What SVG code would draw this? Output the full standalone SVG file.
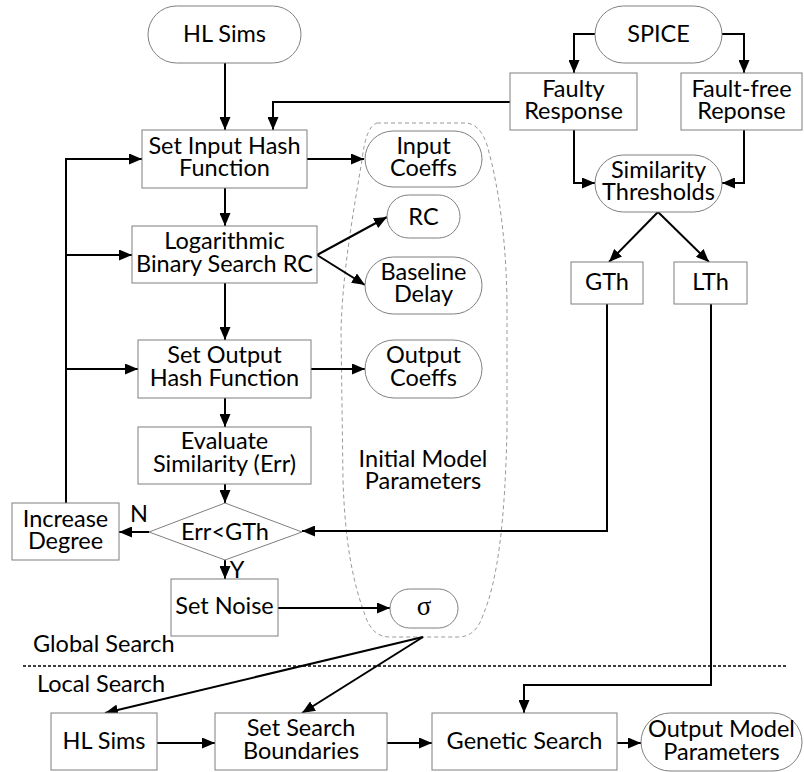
<svg xmlns="http://www.w3.org/2000/svg" width="804" height="772" viewBox="0 0 804 772">
  <defs>
    <marker id="arrow" viewBox="0 0 13 11" refX="13" refY="5.5" markerWidth="13" markerHeight="11" markerUnits="userSpaceOnUse" orient="auto">
      <path d="M0,0 L13,5.5 L0,11 z" fill="#000"/>
    </marker>
    <style>
      .box { fill: #fff; stroke: #7f7f7f; stroke-width: 1; }
      .wire { fill: none; stroke: #000; stroke-width: 2; }
      .arr { marker-end: url(#arrow); }
      text { font-family: "Lato", "Liberation Sans", sans-serif; font-size: 23.5px; fill: #000; text-anchor: middle; }
      .left { text-anchor: start; }
      .sym { font-family: "Liberation Serif", "DejaVu Serif", serif; font-size: 27px; }
    </style>
  </defs>
  <rect width="804" height="772" fill="#fff"/>

  <!-- parameter grouping outline -->
  <path id="param-outline" d="M 377,123 L 466,123 Q 480,124 487,145 C 500,190 507,250 507,310 L 507,430 C 505,520 498,580 483,615 Q 476,637 458,637 L 390,637 Q 372,637 365,615 C 352,580 345,540 343,480 L 341,330 C 343,270 352,220 362,160 Q 366,126 377,123 Z" fill="none" stroke="#999" stroke-width="1" stroke-dasharray="4,3"/>

  <!-- global / local separator -->
  <line x1="23" y1="666" x2="787" y2="666" stroke="#000" stroke-width="1.5" stroke-dasharray="3,2"/>

  <g id="connectors">
    <path class="wire arr" d="M225,63 L225,130"/>
    <path class="wire arr" d="M510,102 L273,102 L273,130"/>
    <path class="wire arr" d="M307,159 L364,159"/>
    <path class="wire arr" d="M225,188 L225,226"/>
    <path class="wire arr" d="M317,255 L387,217"/>
    <path class="wire arr" d="M317,255 L365,285"/>
    <path class="wire arr" d="M225,283 L225,340"/>
    <path class="wire arr" d="M311,369 L365,369"/>
    <path class="wire arr" d="M225,398 L225,427"/>
    <path class="wire arr" d="M225,484 L225,503"/>
    <path class="wire arr" d="M149,532 L119,532"/>
    <path class="wire arr" d="M66,503 L66,159 L142,159"/>
    <path class="wire arr" d="M66,255 L132,255"/>
    <path class="wire arr" d="M66,369 L138,369"/>
    <path class="wire arr" d="M225,560 L225,579"/>
    <path class="wire arr" d="M278,608 L390,608"/>
    <path class="wire arr" d="M595,34 L574,34 L574,73"/>
    <path class="wire arr" d="M722,34 L744,34 L744,73"/>
    <path class="wire arr" d="M574,130 L574,183 L595,183"/>
    <path class="wire arr" d="M744,130 L744,183 L722,183"/>
    <path class="wire arr" d="M658,212 L609,262"/>
    <path class="wire arr" d="M658,212 L709,262"/>
    <path class="wire arr" d="M607,304 L607,531 L302,531"/>
    <path class="wire arr" d="M711,304 L711,685 L524,685 L524,713"/>
    <path class="wire arr" d="M423,637 L105,713"/>
    <path class="wire arr" d="M423,637 L302,713"/>
    <path class="wire arr" d="M157,743 L215,743"/>
    <path class="wire arr" d="M387,743 L432,743"/>
    <path class="wire arr" d="M617,743 L641,743"/>
  </g>

  <g id="hl-sims-top">
    <rect class="box" x="148" y="6" width="153" height="57" rx="28.5"/>
    <text x="224.5" y="42">HL Sims</text>
  </g>
  <g id="spice">
    <rect class="box" x="595" y="6" width="127" height="57" rx="28.5"/>
    <text x="658.5" y="42">SPICE</text>
  </g>
  <g id="faulty-response">
    <rect class="box" x="510" y="73" width="127" height="57"/>
    <text x="573.5" y="97">Faulty</text>
    <text x="573.5" y="119">Response</text>
  </g>
  <g id="fault-free-response">
    <rect class="box" x="681" y="73" width="121" height="57"/>
    <text x="741.5" y="97">Fault-free</text>
    <text x="741.5" y="119">Reponse</text>
  </g>
  <g id="similarity-thresholds">
    <rect class="box" x="595" y="155" width="127" height="57" rx="28.5"/>
    <text x="658.5" y="178">Similarity</text>
    <text x="658.5" y="200">Thresholds</text>
  </g>
  <g id="gth">
    <rect class="box" x="571" y="262" width="72" height="42"/>
    <text x="607" y="290">GTh</text>
  </g>
  <g id="lth">
    <rect class="box" x="674" y="262" width="73" height="42"/>
    <text x="710.5" y="290">LTh</text>
  </g>
  <g id="set-input-hash">
    <rect class="box" x="142" y="130" width="165" height="58"/>
    <text x="224.5" y="154">Set Input Hash</text>
    <text x="224.5" y="176">Function</text>
  </g>
  <g id="input-coeffs">
    <rect class="box" x="365" y="131" width="117" height="56" rx="28"/>
    <text x="423.5" y="154">Input</text>
    <text x="423.5" y="176">Coeffs</text>
  </g>
  <g id="log-binary-search">
    <rect class="box" x="132" y="226" width="185" height="57"/>
    <text x="224.5" y="249">Logarithmic</text>
    <text x="224.5" y="272">Binary Search RC</text>
  </g>
  <g id="rc">
    <rect class="box" x="387" y="195" width="73" height="43" rx="21.5"/>
    <text x="423.5" y="225">RC</text>
  </g>
  <g id="baseline-delay">
    <rect class="box" x="365" y="257" width="117" height="57" rx="28.5"/>
    <text x="423.5" y="280">Baseline</text>
    <text x="423.5" y="302">Delay</text>
  </g>
  <g id="set-output-hash">
    <rect class="box" x="138" y="340" width="173" height="58"/>
    <text x="224.5" y="363">Set Output</text>
    <text x="224.5" y="386">Hash Function</text>
  </g>
  <g id="output-coeffs">
    <rect class="box" x="365" y="340" width="117" height="58" rx="29"/>
    <text x="423.5" y="363">Output</text>
    <text x="423.5" y="386">Coeffs</text>
  </g>
  <g id="evaluate-similarity">
    <rect class="box" x="138" y="427" width="173" height="57"/>
    <text x="224.5" y="449">Evaluate</text>
    <text x="224.5" y="472">Similarity (Err)</text>
  </g>
  <g id="initial-model-parameters">
    <text x="423" y="467">Initial Model</text>
    <text x="423" y="489">Parameters</text>
  </g>
  <g id="err-check">
    <polygon class="box" points="225,503 302,532 225,560 149,532"/>
    <text x="225" y="540">Err&lt;GTh</text>
    <text x="139" y="522">N</text>
    <text x="237" y="578">Y</text>
  </g>
  <g id="increase-degree">
    <rect class="box" x="12" y="503" width="107" height="57"/>
    <text x="65.5" y="527">Increase</text>
    <text x="65.5" y="549">Degree</text>
  </g>
  <g id="set-noise">
    <rect class="box" x="171" y="579" width="107" height="57"/>
    <text x="224.5" y="614">Set Noise</text>
  </g>
  <g id="sigma">
    <rect class="box" x="390" y="589" width="68" height="39" rx="19.5"/>
    <text class="sym" x="424" y="615">σ</text>
  </g>
  <g id="region-labels">
    <text class="left" x="33" y="652">Global Search</text>
    <text class="left" x="37" y="692">Local Search</text>
  </g>
  <g id="hl-sims-bottom">
    <rect class="box" x="51" y="713" width="106" height="57"/>
    <text x="104" y="749">HL Sims</text>
  </g>
  <g id="set-search-boundaries">
    <rect class="box" x="215" y="713" width="172" height="57"/>
    <text x="301" y="736">Set Search</text>
    <text x="301" y="759">Boundaries</text>
  </g>
  <g id="genetic-search">
    <rect class="box" x="432" y="713" width="185" height="57"/>
    <text x="524.5" y="749">Genetic Search</text>
  </g>
  <g id="output-model-parameters">
    <rect class="box" x="641" y="713" width="161" height="58" rx="29"/>
    <text x="721.5" y="737">Output Model</text>
    <text x="721.5" y="760">Parameters</text>
  </g>
</svg>
